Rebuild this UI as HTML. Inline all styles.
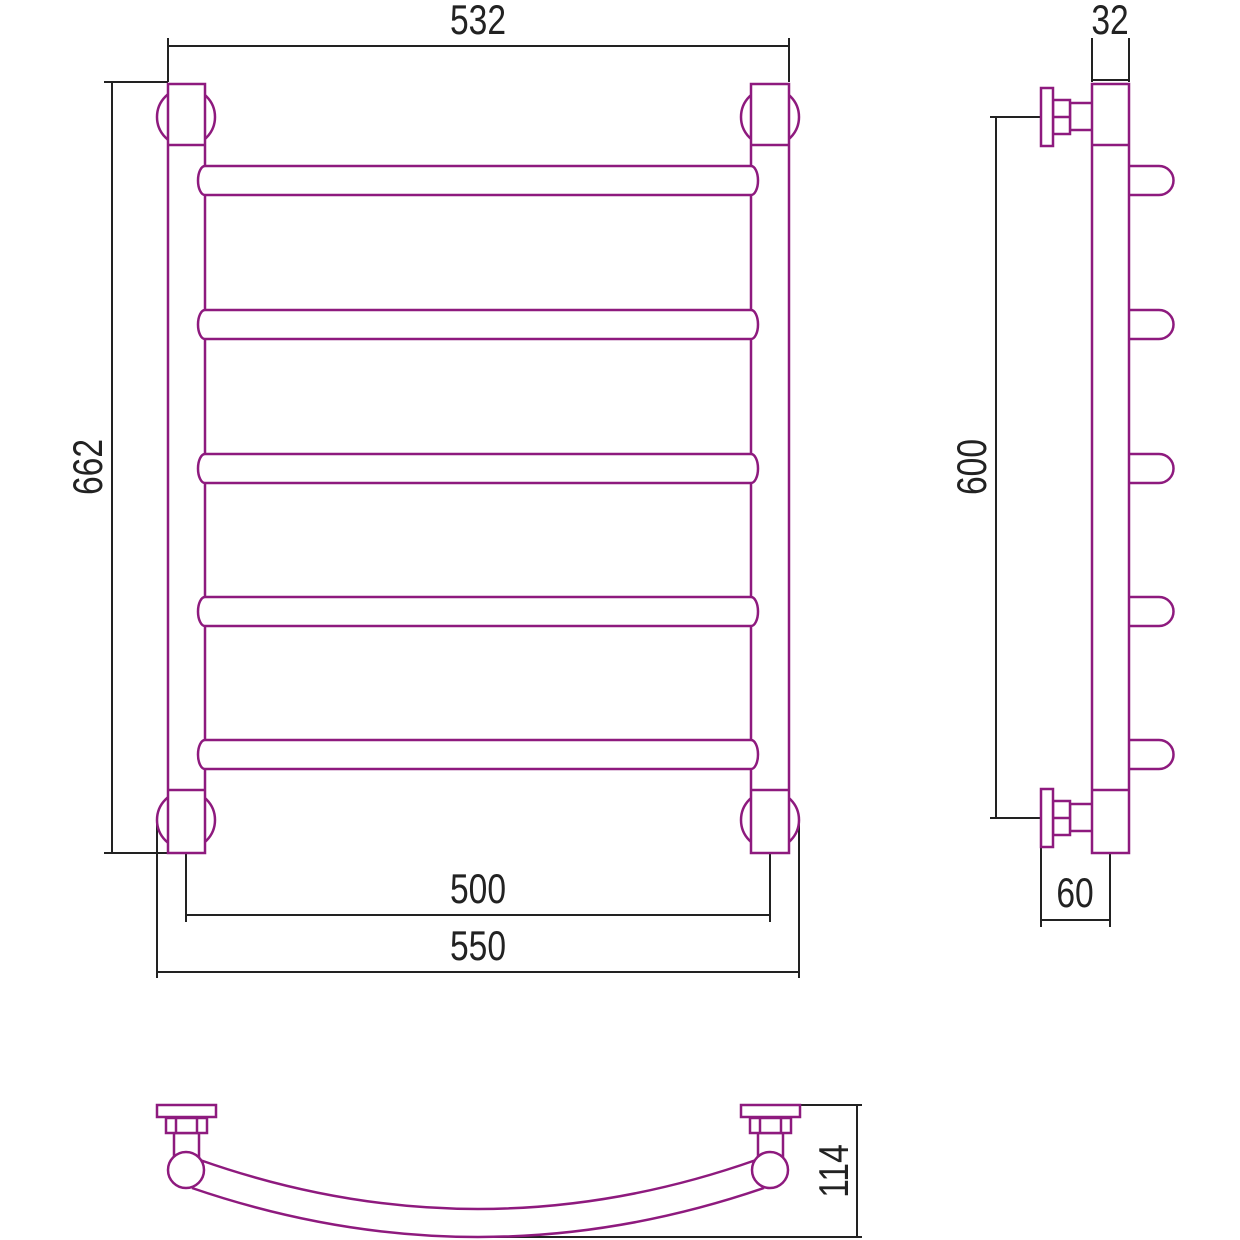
<!DOCTYPE html>
<html><head><meta charset="utf-8"><style>body{margin:0;background:#fff}svg{display:block}</style></head><body>
<svg width="1240" height="1240" viewBox="0 0 1240 1240" xmlns="http://www.w3.org/2000/svg">
<defs>
<g id="rail"><path d="M205,0 H751 A7,14.5 0 0 1 751,29 H205 A7,14.5 0 0 1 205,0 Z" fill="#fff"/></g>
</defs>
<g fill="none" stroke="#222" stroke-width="2">
<!-- 532 -->
<line x1="168" y1="38" x2="168" y2="82"/><line x1="789" y1="38" x2="789" y2="82"/><line x1="168" y1="46" x2="789" y2="46"/>
<!-- 662 -->
<line x1="104" y1="82" x2="168" y2="82"/><line x1="104" y1="853" x2="168" y2="853"/><line x1="112" y1="82" x2="112" y2="853"/>
<!-- 500 -->
<line x1="186" y1="850" x2="186" y2="922"/><line x1="770" y1="850" x2="770" y2="922"/><line x1="186" y1="915" x2="770" y2="915"/>
<!-- 550 -->
<line x1="157" y1="820" x2="157" y2="978"/><line x1="799" y1="820" x2="799" y2="978"/><line x1="157" y1="972" x2="799" y2="972"/>
<!-- 32 -->
<line x1="1092" y1="38" x2="1092" y2="82"/><line x1="1129" y1="38" x2="1129" y2="82"/><line x1="1092" y1="80" x2="1129" y2="80"/>
<!-- 600 -->
<line x1="990" y1="117" x2="1041" y2="117"/><line x1="990" y1="818" x2="1041" y2="818"/><line x1="996" y1="117" x2="996" y2="818"/>
<!-- 60 -->
<line x1="1041" y1="848" x2="1041" y2="927"/><line x1="1110" y1="848" x2="1110" y2="927"/><line x1="1041" y1="920" x2="1110" y2="920"/>
<!-- 114 -->
<line x1="800" y1="1105" x2="862" y2="1105"/><line x1="480" y1="1237" x2="862" y2="1237"/><line x1="857" y1="1105" x2="857" y2="1237"/>
</g>
<g font-family="Liberation Sans, sans-serif" font-size="42" fill="#222" text-anchor="middle">
<text transform="translate(478,34) scale(0.8,1)">532</text>
<text transform="translate(478,903) scale(0.8,1)">500</text>
<text transform="translate(478,960) scale(0.8,1)">550</text>
<text transform="translate(1110,34) scale(0.8,1)">32</text>
<text transform="translate(1075,907) scale(0.8,1)">60</text>
<text transform="translate(102,467) rotate(-90) scale(0.8,1)">662</text>
<text transform="translate(986,467) rotate(-90) scale(0.8,1)">600</text>
<text transform="translate(848,1171) rotate(-90) scale(0.8,1)">114</text>
</g>
<g fill="#fff" stroke="#8e1a7e" stroke-width="2.5">
<!-- flanges front -->
<circle cx="186" cy="117" r="29"/><circle cx="770" cy="117" r="29"/>
<circle cx="186" cy="820" r="29"/><circle cx="770" cy="820" r="29"/>
<!-- pillars -->
<rect x="168" y="84" width="37" height="769"/><rect x="751" y="84" width="38" height="769"/>
<line x1="168" y1="145" x2="205" y2="145"/><line x1="751" y1="145" x2="789" y2="145"/>
<line x1="168" y1="790" x2="205" y2="790"/><line x1="751" y1="790" x2="789" y2="790"/>
<use href="#rail" y="166"/><use href="#rail" y="310"/><use href="#rail" y="454"/><use href="#rail" y="597"/><use href="#rail" y="740"/>
<!-- side view -->
<g id="stubs">
<path d="M1129,166 H1159 A14.5,14.5 0 0 1 1159,195 H1129"/>
<path d="M1129,310 H1159 A14.5,14.5 0 0 1 1159,339 H1129"/>
<path d="M1129,454 H1159 A14.5,14.5 0 0 1 1159,483 H1129"/>
<path d="M1129,597 H1159 A14.5,14.5 0 0 1 1159,626 H1129"/>
<path d="M1129,740 H1159 A14.5,14.5 0 0 1 1159,769 H1129"/>
</g>
<path d="M1070,103 H1092 A6,13.5 0 0 1 1092,130 H1070 Z"/>
<rect x="1053" y="100" width="17" height="34"/><line x1="1053" y1="117" x2="1070" y2="117"/>
<rect x="1041" y="88" width="12" height="58"/>
<path d="M1070,804 H1092 A6,13.5 0 0 1 1092,831 H1070 Z"/>
<rect x="1053" y="801" width="17" height="34"/><line x1="1053" y1="818" x2="1070" y2="818"/>
<rect x="1041" y="789" width="12" height="58"/>
<rect x="1092" y="84" width="37" height="769"/>
<line x1="1092" y1="145" x2="1129" y2="145"/><line x1="1092" y1="790" x2="1129" y2="790"/>
<!-- bottom view -->
<path d="M200,1160 Q478,1258 756,1160" fill="none"/>
<path d="M192,1188 Q478,1286 764,1188" fill="none"/>
<rect x="174" y="1133" width="25" height="25"/><rect x="166" y="1118" width="41" height="15"/><line x1="176" y1="1118" x2="176" y2="1133"/><line x1="197" y1="1118" x2="197" y2="1133"/>
<rect x="157" y="1105" width="59" height="12"/>
<circle cx="186" cy="1170" r="18"/>
<rect x="758" y="1133" width="25" height="25"/><rect x="750" y="1118" width="41" height="15"/><line x1="760" y1="1118" x2="760" y2="1133"/><line x1="781" y1="1118" x2="781" y2="1133"/>
<rect x="741" y="1105" width="59" height="12"/>
<circle cx="770" cy="1170" r="18"/>
</g>
</svg>
</body></html>
